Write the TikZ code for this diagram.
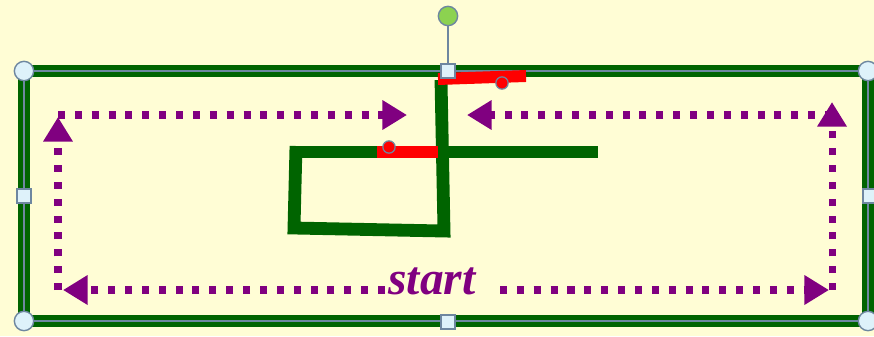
\documentclass[tikz,border=0pt]{standalone}
\usepackage{fontspec}
\setmainfont{Liberation Serif}
\usepackage{xcolor}
\usetikzlibrary{arrows.meta}

\definecolor{paper}{RGB}{255,253,213}
\definecolor{boxgreen}{RGB}{0,100,0}
\definecolor{routepurple}{RGB}{128,0,128}
\definecolor{handleblue}{RGB}{222,242,250}
\definecolor{handleedge}{RGB}{110,135,160}
\definecolor{knobgreen}{RGB}{140,210,80}

\tikzset{
  dotarrow/.style={routepurple, line width=4pt, dash pattern=on 4pt off 5.6pt,
    -{Triangle[length=14pt,width=16pt]}},
  wire/.style={boxgreen, line width=7.3pt},
  hot/.style={red, line width=6.8pt},
  cornerknob/.style={circle, draw=handleedge, fill=handleblue, line width=0.8pt, minimum size=11pt, inner sep=0pt},
  sideknob/.style={rectangle, draw=handleedge, fill=handleblue, line width=0.8pt, minimum size=8pt, inner sep=0pt},
  redknob/.style={circle, draw=handleedge, fill=red, line width=0.7pt, minimum size=7pt, inner sep=0pt}
}

\begin{document}
\begin{tikzpicture}[x=0.02cm, y=-0.02cm]
    \fill[paper] (0,0) rectangle (874,336);
    \useasboundingbox (0,0) rectangle (874,336);

    % frame
    \draw[boxgreen, line width=6.4pt] (24,71) rectangle (868,321);
    \draw[handleedge, line width=0.6pt] (24,71) rectangle (868,321);

    % route round the frame
    \draw[dotarrow] (385,290) -- (63,290);
    \draw[dotarrow] (58,290) -- (58,117);
    \draw[dotarrow] (58,115) -- (407,115);
    \draw[dotarrow] (500,290) -- (829,290);
    \draw[dotarrow] (832,290) -- (832,102);
    \draw[dotarrow] (832,115) -- (467,115);
    \node[routepurple, font=\fontsize{27}{30}\selectfont\bfseries\itshape] (start) at (432,281) {start};

    % the wire
    \draw[wire] (290,152) -- (598,152);
    \draw[wire, line join=miter] (441,80) -- (444,231) -- (294,228) -- (296,146);
    \draw[hot] (377,152) -- (438,152);
    \draw[hot] (438,79) -- (526,76);

    % handles
    \draw[handleedge, line width=1pt] (448,71) -- (448,16);
    \node[circle, draw=handleedge, fill=knobgreen, line width=0.8pt, minimum size=11pt, inner sep=0pt] (rot) at (448,16) {};
    \foreach \p/\n in {{24,71}/nw, {868,71}/ne, {24,321}/sw, {868,321}/se}
      \node[cornerknob] (\n) at (\p) {};
    \foreach \p/\n in {{448,71}/n, {24,196}/w, {870,196}/e, {448,322}/s}
      \node[sideknob] (\n) at (\p) {};
    \node[redknob] (tipa) at (502,83) {};
    \node[redknob] (tipb) at (389,147) {};
\end{tikzpicture}
\end{document}
